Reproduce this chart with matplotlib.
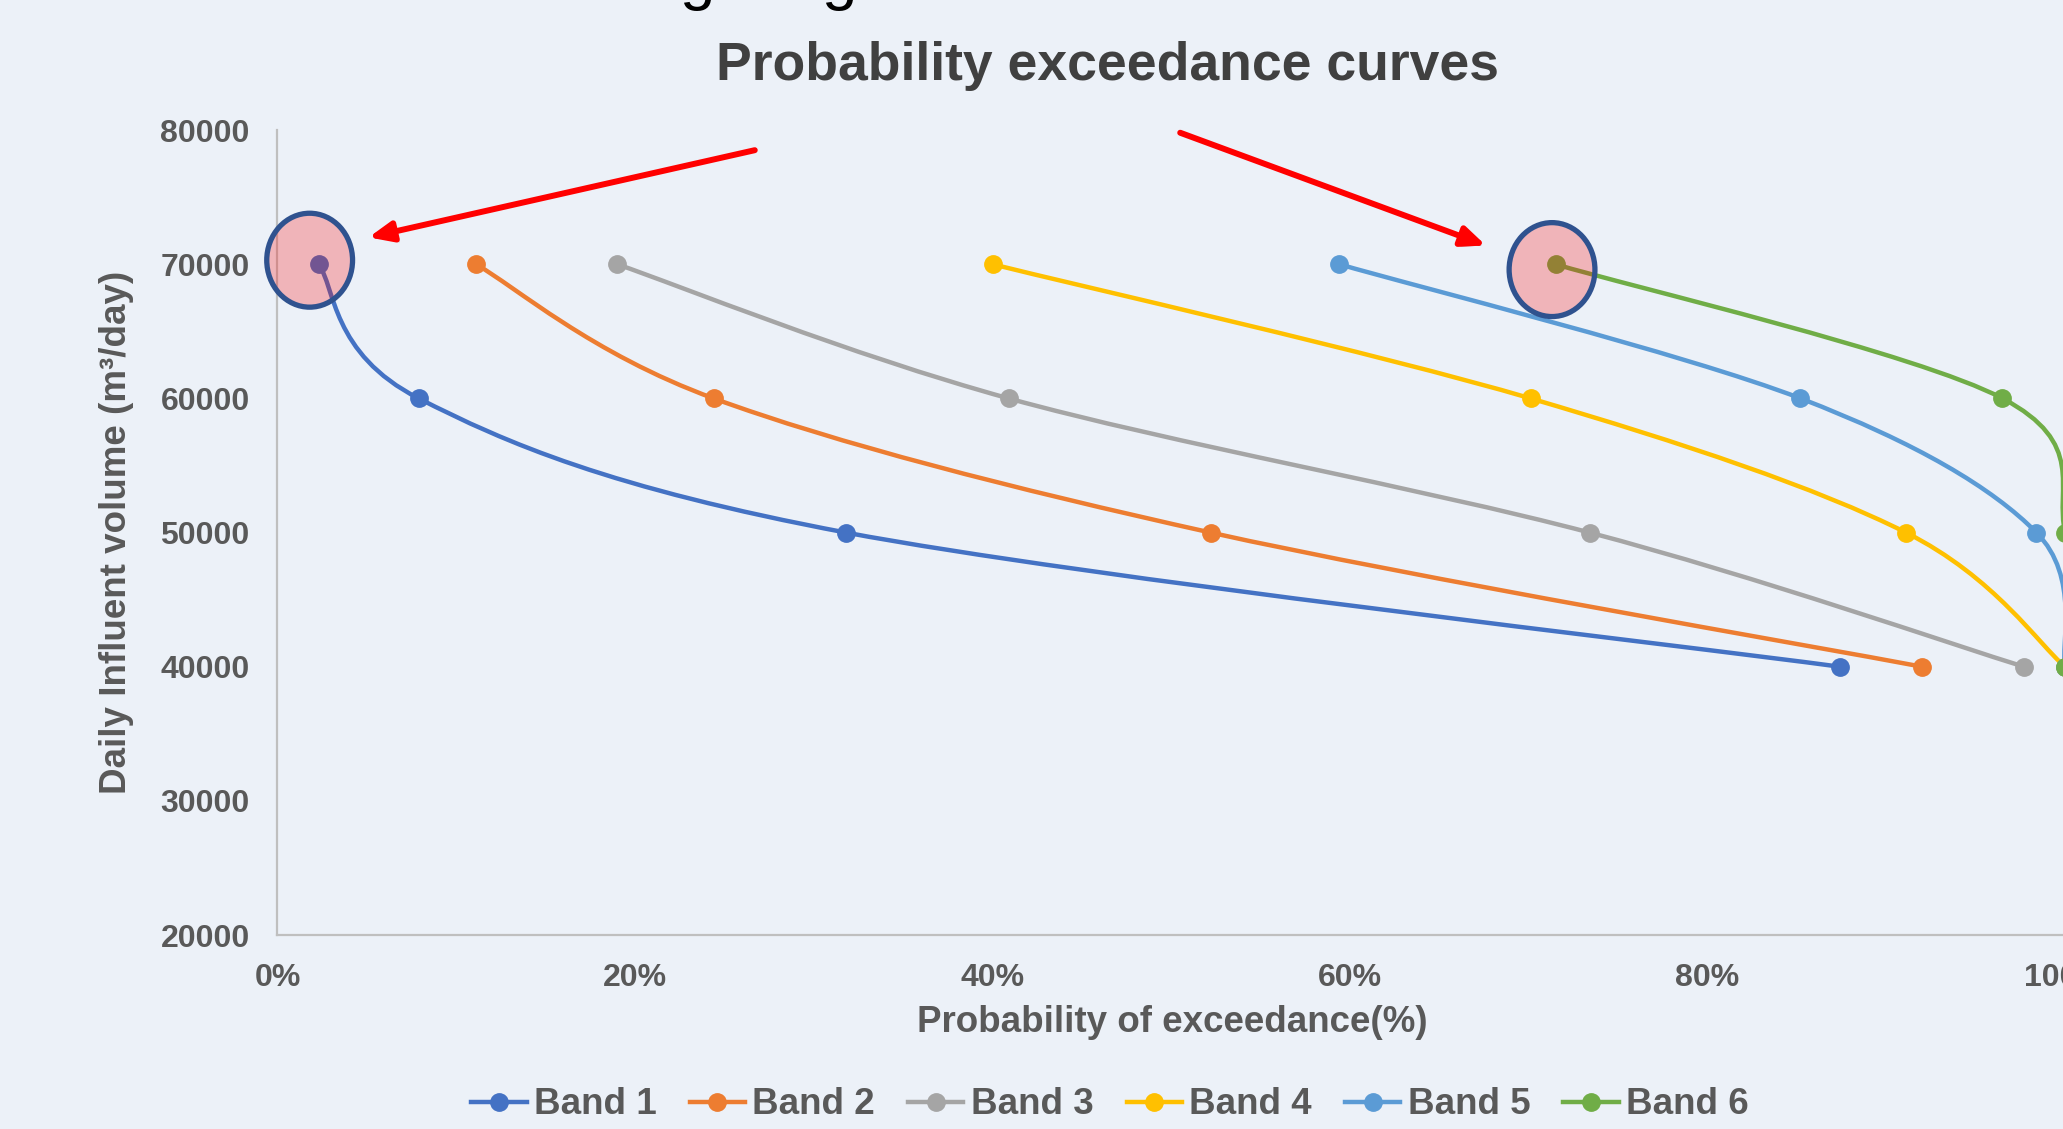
import matplotlib
matplotlib.use("Agg")
import matplotlib.pyplot as plt
from matplotlib.path import Path
from matplotlib.patches import PathPatch, Ellipse
from matplotlib.lines import Line2D
from matplotlib.ticker import PercentFormatter
import matplotlib.patheffects as pe

plt.rcParams["font.family"] = ["Liberation Sans", "DejaVu Sans"]

# daily influent volume levels (m3/day), same for each band
volumes = [70000, 60000, 50000, 40000]

# probability of exceedance (%)
band1 = [2.3, 7.9, 31.8, 87.4]
band2 = [11.1, 24.4, 52.2, 92.0]
band3 = [19.0, 40.9, 73.4, 97.7]
band4 = [40.0, 70.1, 91.1, 100.0]
band5 = [59.4, 85.2, 98.4, 100.0]
band6 = [71.5, 96.5, 100.0, 100.0]

bands = [band1, band2, band3, band4, band5, band6]
names = ["Band 1", "Band 2", "Band 3", "Band 4", "Band 5", "Band 6"]
colors = ["#4472C4", "#ED7D31", "#A5A5A5", "#FFC000", "#5B9BD5", "#70AD47"]

BG = "#ECF1F8"
TXT = "#595959"


def smooth_path(xs, ys):
    """Excel-like smoothed line: cubic Bezier through points,
    control points from Catmull-Rom tangents."""
    pts = list(zip(xs, ys))
    n = len(pts)
    verts = [pts[0]]
    codes = [Path.MOVETO]
    for i in range(n - 1):
        p0 = pts[i - 1] if i > 0 else pts[i]
        p1 = pts[i]
        p2 = pts[i + 1]
        p3 = pts[i + 2] if i + 2 < n else pts[i + 1]
        c1 = (p1[0] + (p2[0] - p0[0]) / 6, p1[1] + (p2[1] - p0[1]) / 6)
        c2 = (p2[0] - (p3[0] - p1[0]) / 6, p2[1] - (p3[1] - p1[1]) / 6)
        verts += [c1, c2, p2]
        codes += [Path.CURVE4] * 3
    return Path(verts, codes)


fig = plt.figure(figsize=(20.63, 11.29), dpi=100, facecolor=BG)
ax = fig.add_axes([0.1345, 0.1718, 0.8665, 0.713])
ax.set_facecolor(BG)

handles = []
for xs, name, c in zip(bands, names, colors):
    ax.add_patch(PathPatch(smooth_path(xs, volumes), fill=False,
                           edgecolor=c, lw=3.2, capstyle="round", zorder=3))
    ax.plot(xs, volumes, "o", color=c, ms=12.5, zorder=4, clip_on=False)
    handles.append(Line2D([], [], color=c, lw=3.2, marker="o", ms=12.5))

ax.set_xlim(0, 100)
ax.set_ylim(20000, 80000)
ax.set_xticks(range(0, 101, 20))
ax.set_yticks(range(20000, 80001, 10000))
ax.xaxis.set_major_formatter(PercentFormatter(decimals=0))
ax.tick_params(length=0, labelsize=23, labelcolor=TXT)
ax.tick_params(axis="y", pad=20)
ax.tick_params(axis="x", pad=20)
for lab in ax.get_xticklabels() + ax.get_yticklabels():
    lab.set_fontweight("bold")
for s in ("top", "right"):
    ax.spines[s].set_visible(False)
for s in ("left", "bottom"):
    ax.spines[s].set_color("#BFBFBF")
    ax.spines[s].set_linewidth(1.6)

# highlight circles
for cx, cy in [(1.8, 70300), (71.3, 69600)]:
    ax.add_patch(Ellipse((cx, cy), 4.8, 7000, facecolor=(1, 0, 0, 0.25),
                         edgecolor="#2F528F", lw=3.8, zorder=6, clip_on=False))

# red arrows pointing to the circles
for (x0, y0), (x1, y1) in [((26.7, 78500), (5.1, 72000)),
                           ((50.5, 79800), (67.6, 71400))]:
    ax.annotate("", xy=(x1, y1), xytext=(x0, y0), annotation_clip=False,
                arrowprops=dict(arrowstyle="-|>,head_length=0.7,head_width=0.3",
                                color="#FF0000", lw=4.3, mutation_scale=20,
                                shrinkA=0, shrinkB=0,
                                path_effects=[pe.SimplePatchShadow(offset=(2, -2), alpha=0.3),
                                              pe.Normal()]),
                zorder=7)

# cut-off slide heading at the very top
for gx in (697, 839):
    fig.text(gx / 2063, 1 + 2 / 1129, "g", fontsize=46, color="black",
             ha="center", va="baseline")

fig.text(1107 / 2063, 1 - 66 / 1129, "Probability exceedance curves",
         fontsize=38.5, fontweight="bold", color="#404040", ha="center", va="center")
fig.text(117 / 2063, 1 - 532 / 1129, "Daily Influent volume (m³/day)",
         fontsize=26.5, fontweight="bold", color=TXT, rotation=90,
         ha="center", va="center")
fig.text(1172 / 2063, 1 - 1022 / 1129, "Probability of exceedance(%)",
         fontsize=26.5, fontweight="bold", color=TXT, ha="center", va="center")

leg = fig.legend(handles=handles, labels=names, loc="center",
                 bbox_to_anchor=(1110 / 2063, 1 - 1105 / 1129), ncol=6,
                 frameon=False, handlelength=1.5, handletextpad=0.2,
                 columnspacing=0.9, prop=dict(size=26.5, weight="bold"))
for t in leg.get_texts():
    t.set_color(TXT)

fig.savefig("out.png", dpi=100, facecolor=BG)
